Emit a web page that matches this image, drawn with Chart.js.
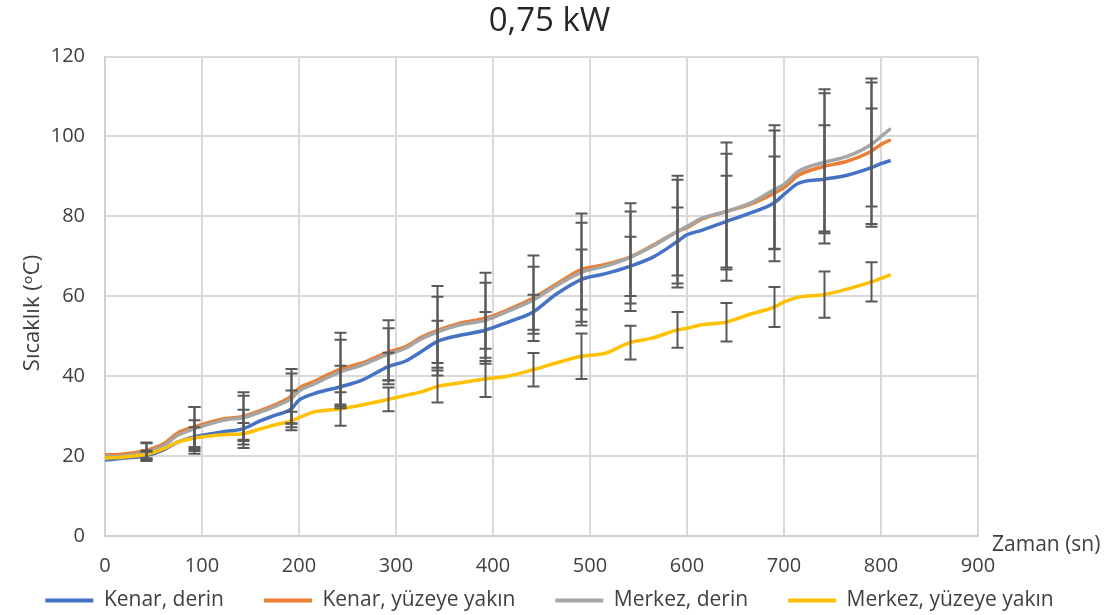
<!DOCTYPE html>
<html>
<head>
<meta charset="utf-8">
<script src="https://cdn.jsdelivr.net/npm/chart.js@4/dist/chart.umd.min.js"></script>
<style>
  html, body { margin: 0; padding: 0; background: #ffffff; }
  #wrap { width: 1119px; height: 615px; }
</style>
</head>
<body>
<div id="wrap"><canvas id="c" width="1119" height="615"></canvas></div>
<script>
// Time axis (s) shared by all four temperature series
const times = [0, 20, 42, 60, 75, 92, 110, 125, 142, 160, 175, 192, 200, 215, 242, 265, 292, 310, 325, 342,
  365, 392, 415, 441, 465, 491, 515, 541, 565, 590, 600, 615, 640, 665, 690, 700, 715, 741, 765, 790, 800, 810];

// Temperatures (°C)
const kenarDerin = [19.0, 19.5, 20.1, 21.5, 23.5, 24.8, 25.6, 26.2, 26.8, 28.8, 30.2, 31.8, 34.0, 35.6, 37.3, 39.0, 42.4, 43.8, 46.0, 48.6,
  50.2, 51.5, 53.5, 56.0, 60.5, 64.2, 65.6, 67.5, 69.8, 73.7, 75.4, 76.5, 78.7, 80.8, 83.4, 85.5, 88.3, 89.3, 90.3, 92.2, 93.2, 94.0];
const kenarYuzey = [20.3, 20.5, 21.4, 23.0, 25.8, 27.3, 28.6, 29.4, 29.9, 31.4, 32.8, 35.0, 37.0, 38.6, 41.7, 43.3, 46.0, 47.4, 49.6, 51.4,
  53.2, 54.5, 56.6, 59.5, 63.0, 66.7, 67.9, 69.8, 72.8, 76.2, 77.2, 79.3, 81.2, 83.0, 85.8, 87.2, 90.3, 92.5, 93.8, 96.3, 98.0, 99.2];
const merkezDerin = [19.8, 20.1, 21.0, 22.5, 25.2, 26.8, 28.2, 29.1, 29.6, 31.0, 32.4, 34.4, 36.3, 38.0, 41.0, 42.8, 45.5, 47.0, 49.2, 51.0,
  52.8, 54.0, 56.2, 59.0, 62.6, 66.0, 67.5, 69.7, 72.6, 76.2, 77.5, 79.5, 81.2, 83.3, 86.7, 88.0, 91.3, 93.5, 95.0, 98.0, 100.0, 102.0];
const merkezYuzey = [19.5, 19.8, 20.4, 21.8, 23.5, 24.5, 25.1, 25.4, 25.6, 26.8, 27.8, 28.8, 29.6, 31.0, 31.8, 32.8, 34.2, 35.2, 36.0, 37.4,
  38.3, 39.3, 40.0, 41.6, 43.3, 45.0, 45.7, 48.4, 49.6, 51.6, 52.0, 52.9, 53.5, 55.5, 57.3, 58.6, 59.8, 60.4, 61.8, 63.6, 64.5, 65.4];

// Times carrying an error bar, and the ± half-width of each bar (°C)
const errorTimes = [42, 92, 142, 192, 242, 292, 342, 392, 441, 491, 541, 590, 640, 690, 741, 790];
const errKenarDerin  = [1.0, 4.2, 4.8, 4.6, 5.3, 3.5, 5.3, 4.6, 4.4, 7.5, 7.4, 8.5, 11.5, 11.6, 13.5, 14.8];
const errKenarYuzey  = [2.0, 5.0, 6.1, 6.8, 9.2, 8.0, 11.2, 11.4, 10.7, 14.0, 13.5, 14.0, 17.3, 17.0, 19.3, 18.2];
const errMerkezDerin = [2.2, 5.5, 5.5, 6.3, 8.1, 6.5, 8.9, 9.4, 8.4, 12.4, 11.5, 13.0, 14.5, 14.8, 17.3, 15.5];
const errMerkezYuzey = [1.0, 2.7, 2.7, 2.3, 4.2, 3.0, 4.0, 4.5, 4.2, 5.7, 4.2, 4.5, 4.8, 5.0, 5.8, 4.9];

const xTicks = [0, 100, 200, 300, 400, 500, 600, 700, 800, 900];
const yTicks = [0, 20, 40, 60, 80, 100, 120];

const FONT = "'Open Sans', 'DejaVu Sans', sans-serif";
const TEXT = '#404040';

function series(label, values, errors, color, order) {
  return {
    label,
    data: times.map((t, i) => ({ x: t, y: values[i] })),
    errorValues: errors,
    borderColor: color,
    backgroundColor: color,
    borderWidth: 3.5,
    pointRadius: 0,
    cubicInterpolationMode: 'monotone',
    order
  };
}

// Draws the vertical ± bars with caps, centred on each series value
const errorBarPlugin = {
  id: 'errorBars',
  afterDatasetsDraw(chart) {
    const { ctx, scales: { x, y } } = chart;
    ctx.save();
    ctx.strokeStyle = '#595959';
    ctx.lineWidth = 2;
    chart.data.datasets.forEach((ds, di) => {
      if (!chart.isDatasetVisible(di)) return;
      errorTimes.forEach((t, k) => {
        const j = times.indexOf(t);
        if (j < 0) return;
        const v = ds.data[j].y, e = ds.errorValues[k];
        const px = Math.round(x.getPixelForValue(t)) + 0.5;
        const top = y.getPixelForValue(v + e), bot = y.getPixelForValue(v - e);
        ctx.beginPath();
        ctx.moveTo(px, top); ctx.lineTo(px, bot);
        ctx.moveTo(px - 6, top); ctx.lineTo(px + 6, top);
        ctx.moveTo(px - 6, bot); ctx.lineTo(px + 6, bot);
        ctx.stroke();
      });
    });
    ctx.restore();
  }
};

// The x axis is kept thin in the layout so the legend sits close under it;
// after layout its box is extended again so the tick labels are not clipped.
const bottomBandPlugin = {
  id: 'bottomBand',
  afterLayout(chart) {
    const x = chart.scales.x;
    x.bottom = x.top + 50;
    x.height = 50;
    if (chart.legend) {
      chart.legend.top += 6;
      chart.legend.bottom += 6;
    }
  }
};

// Axis captions: y caption rotated on the left, x caption after the end of the axis
const axisCaptionPlugin = {
  id: 'axisCaptions',
  afterDraw(chart) {
    const { ctx, chartArea } = chart;
    ctx.save();
    ctx.fillStyle = TEXT;
    ctx.font = `21px ${FONT}`;
    ctx.textBaseline = 'middle';
    ctx.textAlign = 'left';
    ctx.fillText('Zaman (sn)', chartArea.right + 14, chartArea.bottom + 9);
    ctx.translate(33, 313);
    ctx.rotate(-Math.PI / 2);
    ctx.textAlign = 'center';
    ctx.font = `22px ${FONT}`;
    ctx.fillText('Sıcaklık (ᵒC)', 0, 0);
    ctx.restore();
  }
};

new Chart(document.getElementById('c'), {
  type: 'line',
  data: {
    datasets: [
      series('Kenar, derin', kenarDerin, errKenarDerin, '#4472C4', 4),
      series('Kenar, yüzeye yakın', kenarYuzey, errKenarYuzey, '#ED7D31', 3),
      series('Merkez, derin', merkezDerin, errMerkezDerin, '#A5A5A5', 2),
      series('Merkez, yüzeye yakın', merkezYuzey, errMerkezYuzey, '#FFC000', 1)
    ]
  },
  options: {
    responsive: false,
    animation: false,
    devicePixelRatio: 1,
    layout: { padding: { left: 0, right: 20, top: 0, bottom: 0 } },
    plugins: {
      title: {
        display: true,
        text: '0,75 kW',
        color: '#262626',
        font: { family: FONT, size: 33, weight: 'normal' },
        padding: { top: 2, bottom: 15 }
      },
      legend: {
        position: 'bottom',
        labels: {
          color: TEXT,
          font: { family: FONT, size: 21 },
          boxWidth: 48,
          boxHeight: 4,
          padding: 40,
          sort: (a, b) => a.datasetIndex - b.datasetIndex,
          generateLabels(chart) {
            return Chart.defaults.plugins.legend.labels.generateLabels(chart)
              .map(l => Object.assign(l, { lineWidth: 0, fillStyle: l.strokeStyle }));
          }
        }
      },
      tooltip: { enabled: false }
    },
    scales: {
      x: {
        type: 'linear',
        min: 0,
        max: 900,
        afterBuildTicks: s => { s.ticks = xTicks.map(v => ({ value: v })); },
        afterFit: s => { s.height = 8; s.paddingRight = 141; },
        grid: { color: '#d9d9d9', lineWidth: 2, drawTicks: false },
        border: { color: '#d0d0d0', width: 2 },
        ticks: { color: TEXT, font: { family: FONT, size: 20 }, padding: 18, maxRotation: 0 }
      },
      y: {
        min: 0,
        max: 120,
        afterBuildTicks: s => { s.ticks = yTicks.map(v => ({ value: v })); },
        afterFit: s => { s.width = 105; },
        grid: { color: '#d9d9d9', lineWidth: 2, drawTicks: false },
        border: { color: '#d0d0d0', width: 2 },
        ticks: { color: TEXT, font: { family: FONT, size: 20 }, padding: 20 }
      }
    }
  },
  plugins: [errorBarPlugin, bottomBandPlugin, axisCaptionPlugin]
});
</script>
</body>
</html>
